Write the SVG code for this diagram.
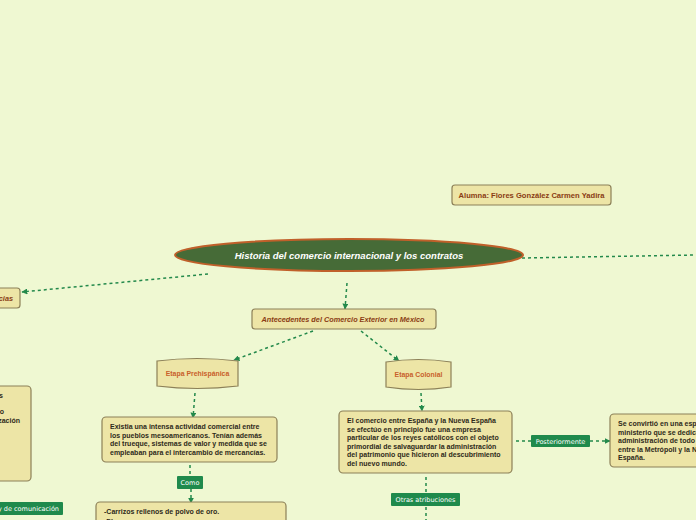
<svg xmlns="http://www.w3.org/2000/svg" width="696" height="520" viewBox="0 0 696 520">
<defs>
<marker id="arr" viewBox="0 0 10 10" refX="9" refY="5" markerWidth="6" markerHeight="6" orient="auto" markerUnits="userSpaceOnUse">
<path d="M0,0 L10,5 L0,10 z" fill="#23894b"/>
</marker>
<style>
.bg{fill:#eff8d2}
.box{fill:#ede5a6;stroke:#8c8058;stroke-width:1.2}
.con{fill:none;stroke:#23894b;stroke-width:1.5;stroke-dasharray:3,3}
.lab{fill:#1f8a4c}
.labt{font-family:"DejaVu Sans",sans-serif;font-size:6.5px;fill:#ffffff}
.t{font-family:"Liberation Sans",Arial,sans-serif;font-weight:bold;font-size:7px;fill:#2e2a1a}
.tt{font-family:"Liberation Sans",Arial,sans-serif;font-weight:bold;font-style:italic;font-size:7.3px;fill:#8a3c14}
.et{font-family:"Liberation Sans",Arial,sans-serif;font-weight:bold;font-size:6.9px;fill:#c8602a}
</style>
</defs>
<rect class="bg" x="0" y="0" width="696" height="520"/>
<g id="connectors">
<path class="con" d="M208,274 L22,292" marker-end="url(#arr)"/>
<path class="con" d="M522,258 L696,255"/>
<path class="con" d="M347,283 L345,309" marker-end="url(#arr)"/>
<path class="con" d="M313,331 L234,360" marker-end="url(#arr)"/>
<path class="con" d="M361,331 L399,361" marker-end="url(#arr)"/>
<path class="con" d="M195,393 L193,418" marker-end="url(#arr)"/>
<path class="con" d="M190,465 L190,476"/>
<path class="con" d="M191,489 L191,503" marker-end="url(#arr)"/>
<path class="con" d="M421,393 L422,411" marker-end="url(#arr)"/>
<path class="con" d="M516,441 L531,441"/>
<path class="con" d="M590,441 L610,441" marker-end="url(#arr)"/>
<path class="con" d="M426,477 L426,493"/>
<path class="con" d="M426,507 L426,520"/>
</g>
<g id="central">
<ellipse cx="349" cy="255" rx="174" ry="16" fill="#466b37" stroke="#c0602a" stroke-width="2"/>
<text x="349" y="259" text-anchor="middle" font-family="Liberation Sans,Arial,sans-serif" font-weight="bold" font-style="italic" font-size="9.5" fill="#ffffff">Historia del comercio internacional y los contratos</text>
</g>
<g id="left-node">
<rect class="box" x="-20" y="288" width="40" height="20" rx="3"/>
<text class="tt" x="13" y="300.5" text-anchor="end">cias</text>
</g>
<g id="alumna">
<rect class="box" x="452" y="185" width="159" height="20" rx="3"/>
<text x="531.5" y="197.8" text-anchor="middle" font-family="Liberation Sans,Arial,sans-serif" font-weight="bold" font-size="7.6" fill="#8a3c14">Alumna: Flores González Carmen Yadira</text>
</g>
<g id="antecedentes">
<rect class="box" x="252" y="309" width="184" height="20" rx="3"/>
<text class="tt" x="343" y="322" text-anchor="middle">Antecedentes del Comercio Exterior en México</text>
</g>
<g id="prehispanica">
<path class="box" d="M157,361 Q197,356 238,361 L238,386 Q197,391 157,386 Z"/>
<text class="et" x="197.5" y="376" text-anchor="middle">Etapa Prehispánica</text>
</g>
<g id="colonial">
<path class="box" d="M386,362 Q418.5,357 451,362 L451,387 Q418.5,392 386,387 Z"/>
<text class="et" x="418.5" y="377" text-anchor="middle">Etapa Colonial</text>
</g>
<g id="prehispanica-text">
<rect class="box" x="102" y="417" width="175" height="45" rx="4"/>
<text class="t" x="110" y="429">Existia una intensa actividad comercial entre</text>
<text class="t" x="110" y="437.5">los pueblos mesoamericanos. Tenían además</text>
<text class="t" x="110" y="446">del trueque, sistemas de valor y medida que se</text>
<text class="t" x="110" y="454.5">empleaban para el intercambio de mercancías.</text>
</g>
<g id="como">
<rect class="lab" x="177" y="476" width="26" height="13" rx="1"/>
<text class="labt" x="190" y="485" text-anchor="middle">Como</text>
</g>
<g id="carrizos">
<rect class="box" x="96" y="502" width="190" height="40" rx="4"/>
<text class="t" x="104" y="514">-Carrizos rellenos de polvo de oro.</text>
<text class="t" x="104" y="523.5">-Plumas</text>
</g>
<g id="colonial-text">
<rect class="box" x="339" y="411" width="173" height="62" rx="4"/>
<text class="t" x="347" y="423">El comercio entre España y la Nueva España</text>
<text class="t" x="347" y="431.5">se efectúo en principio fue una empresa</text>
<text class="t" x="347" y="440">particular de los reyes católicos con el objeto</text>
<text class="t" x="347" y="448.5">primordial de salvaguardar la administración</text>
<text class="t" x="347" y="457">del patrimonio que hicieron al descubrimiento</text>
<text class="t" x="347" y="465.5">del nuevo mundo.</text>
</g>
<g id="posteriormente">
<rect class="lab" x="531" y="435" width="59" height="12" rx="1"/>
<text class="labt" x="560.5" y="443.5" text-anchor="middle">Posteriormente</text>
</g>
<g id="especie">
<rect class="box" x="610" y="414" width="120" height="53" rx="4"/>
<text class="t" x="618" y="426">Se convirtió en una especie de</text>
<text class="t" x="618" y="434.5">ministerio que se dedicaba a la</text>
<text class="t" x="618" y="443">administración de todo lo relativo</text>
<text class="t" x="618" y="451.5">entre la Metrópoli y la Nueva</text>
<text class="t" x="618" y="460">España.</text>
</g>
<g id="otras">
<rect class="lab" x="391" y="493" width="69" height="13" rx="1"/>
<text class="labt" x="425.5" y="502" text-anchor="middle">Otras atribuciones</text>
</g>
<g id="left-box">
<rect class="box" x="-60" y="386" width="91" height="95" rx="4"/>
<text class="t" x="3" y="398" text-anchor="end">s</text>
<text class="t" x="4" y="414" text-anchor="end">o</text>
<text class="t" x="20" y="423" text-anchor="end">zación</text>
</g>
<g id="comunicacion">
<rect class="lab" x="-20" y="502" width="83" height="13" rx="1"/>
<text class="labt" x="59" y="511" text-anchor="end">y de comunicación</text>
</g>
</svg>
